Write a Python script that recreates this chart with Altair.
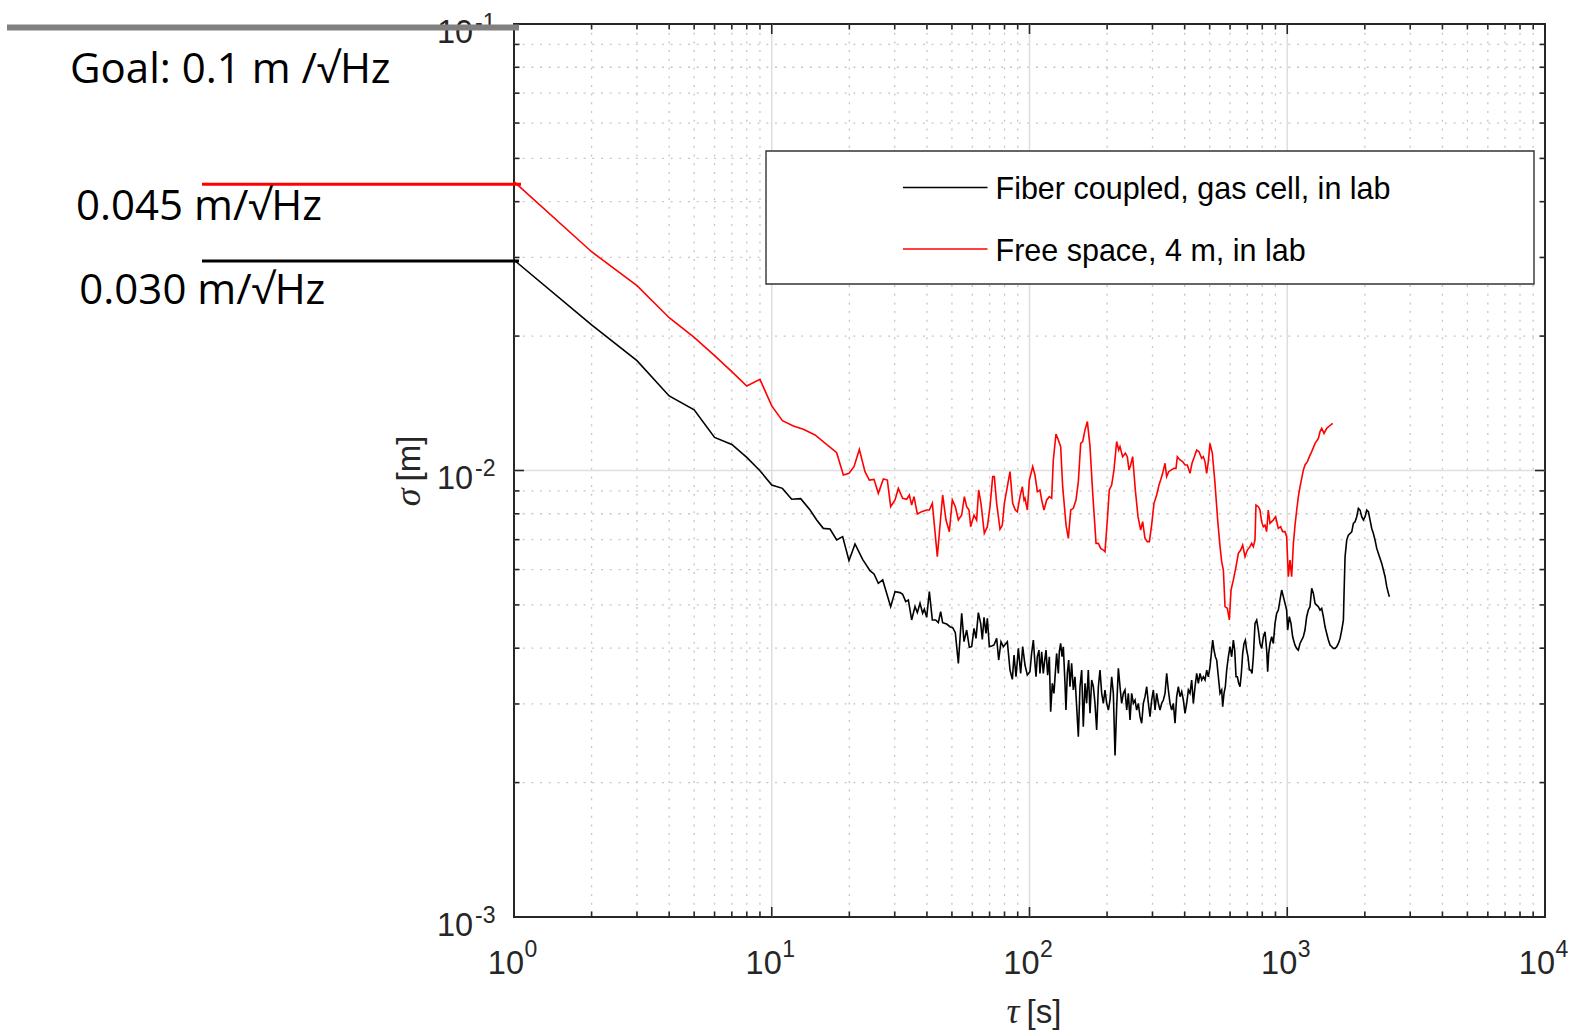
import altair as alt
import pandas as pd

# ---------------------------------------------------------------------------
# Overlapping Allan deviation of the range measurement, sigma(tau) in metres
# ---------------------------------------------------------------------------
fiber_tau = [
    1, 2, 3, 4, 5, 6, 7, 8, 9, 10, 11,
    11.95, 12.95, 14.08, 14.94, 15.85, 16.83, 17.86, 18.84, 19.94, 21.04,
    22.52, 24.05, 24.93, 25.91, 26.94, 28.93, 30.08, 31.45, 32.20, 33.08,
    33.88, 34.90, 35.96, 36.72, 37.60, 38.50, 39.08, 39.90, 40.87, 41.98,
    43.25, 44.29, 45.22, 46.03, 47.71, 49.15, 50.34, 51.55, 52.97, 54.57,
    55.71, 57.05, 58.42, 59.66, 60.92, 62.01, 63.32, 64.65, 65.62, 66.61,
    67.80, 68.62, 69.86, 71.33, 72.83, 74.58, 75.93, 77.53, 79.17, 82.04,
    84.02, 85.79, 87.09, 88.65, 90.52, 92.40, 94.09, 96.05, 98.08,
    100.4, 101.9, 103.5, 105.0, 106.0, 107.2, 108.8, 109.8, 111.5, 113.1,
    114.8, 115.9, 117.6, 119.4, 120.8, 122.6, 124.4, 125.9, 127.4, 129.4,
    130.5, 132.1, 133.7, 135.3, 137.3, 138.5, 140.2, 141.9, 143.6, 145.7,
    147.9, 150.1, 152.4, 154.7, 157.0, 159.4, 161.7, 164.2, 166.6, 169.1,
    171.7, 174.3, 176.9, 179.5, 182.2, 185.0, 187.7, 190.6, 193.4, 196.3,
    199.3, 202.3, 205.3, 208.4, 211.5, 214.7, 217.9, 221.2, 224.5, 227.8,
    231.3, 234.7, 238.3, 241.8, 245.5, 249.1, 252.9, 256.7, 260.5, 264.4,
    268.4, 272.4, 276.5, 280.7, 284.9, 289.2, 293.5, 297.9, 302.4, 306.9,
    311.5, 316.2, 320.9, 325.7, 330.6, 335.6, 340.6, 345.7, 350.9, 356.2,
    361.5, 366.9, 372.4, 378.0, 383.7, 389.5, 395.3, 401.2, 407.2, 413.4,
    419.5, 425.8, 432.2, 438.7, 445.3, 452.0, 458.7, 465.6, 472.6, 479.7,
    486.9, 494.2, 501.6, 509.1, 513.7, 519.9, 526.1, 532.4, 540.4, 548.5,
    556.7, 561.7, 568.4, 575.2, 582.1, 590.9, 599.7, 608.7, 617.9, 625.3,
    632.8, 640.3, 648.0, 655.8, 663.6, 671.6, 679.6, 687.8, 696.0, 704.3,
    712.8, 721.3, 729.9, 738.7, 749.8, 761.0, 772.5, 784.0, 795.8, 807.7,
    819.9, 832.2, 839.6, 847.2, 857.3, 870.2, 883.2, 896.5, 909.9, 923.6,
    937.4, 951.5, 965.8, 980.3, 994.6, 1003.6, 1018.6, 1033.9, 1049.4, 1071.5,
    1087.6, 1103.9, 1120.5, 1137.3, 1154.4, 1171.7, 1189.3, 1207.1, 1225.2, 1244.1,
    1262.8, 1281.7, 1301.0, 1320.5, 1340.4, 1360.5, 1380.9, 1401.7, 1422.7, 1444.0,
    1465.7, 1487.8, 1510.1, 1532.7, 1555.8, 1579.1, 1602.8, 1626.9, 1651.2, 1661.1,
    1676.1, 1701.2, 1726.7, 1752.6, 1779.0, 1805.6, 1832.7, 1860.3, 1888.1, 1916.4,
    1945.2, 1974.4, 2004.1, 2034.1, 2064.6, 2095.6, 2127.0, 2159.0, 2191.3, 2224.3,
    2257.6, 2291.5, 2325.9, 2360.8, 2396.2, 2432.1, 2468.7, 2490.7,
]
fiber_sigma = [
    0.02961, 0.02118, 0.01762, 0.01469, 0.01367, 0.01186, 0.01144, 0.01070, 0.009990, 0.009280, 0.009120,
    0.008620, 0.008650, 0.008157, 0.007746, 0.007420, 0.007395, 0.006989, 0.007110, 0.006282, 0.006847,
    0.006324, 0.005968, 0.005866, 0.005590, 0.005687, 0.004955, 0.005354, 0.005327, 0.005281, 0.005085,
    0.005129, 0.004626, 0.004955, 0.004805, 0.005042, 0.004788, 0.004889, 0.004690, 0.005354, 0.004626,
    0.004626, 0.004563, 0.004830, 0.004563, 0.004531, 0.004469, 0.004446, 0.004333, 0.003699, 0.004788,
    0.004136, 0.004393, 0.004018, 0.004032, 0.004431, 0.004208, 0.004805, 0.004547, 0.004186, 0.004690,
    0.004318, 0.004666, 0.004032, 0.004046, 0.004066, 0.004208, 0.003763, 0.004136, 0.004032, 0.004136,
    0.003573, 0.003405, 0.003861, 0.003452, 0.003997, 0.003512, 0.004032, 0.003667, 0.003483,
    0.003543, 0.003893, 0.004171, 0.003698, 0.003452, 0.003827, 0.003961, 0.003512, 0.003927, 0.003512,
    0.003795, 0.003961, 0.003482, 0.003827, 0.002883, 0.003336, 0.003169, 0.003512, 0.003893, 0.003512,
    0.003927, 0.004099, 0.003827, 0.004030, 0.003336, 0.002908, 0.003512, 0.003762, 0.003279, 0.003698,
    0.003224, 0.003452, 0.002959, 0.002535, 0.003279, 0.003573, 0.002669, 0.003336, 0.003010, 0.003573,
    0.002859, 0.003394, 0.003279, 0.003010, 0.002624, 0.003279, 0.003573, 0.003169, 0.003010, 0.003224,
    0.003010, 0.002908, 0.003062, 0.003452, 0.003169, 0.002300, 0.002959, 0.003604, 0.003279, 0.003010,
    0.003169, 0.003224, 0.002908, 0.003169, 0.002762, 0.003169, 0.003010, 0.003062, 0.002908, 0.003010,
    0.002810, 0.002716, 0.003010, 0.003115, 0.003279, 0.003010, 0.002810, 0.003062, 0.003224, 0.002908,
    0.003169, 0.003010, 0.002908, 0.003010, 0.003062, 0.003169, 0.003512, 0.003224, 0.003010, 0.002908,
    0.003010, 0.002716, 0.003115, 0.003279, 0.003115, 0.003196, 0.003062, 0.002859, 0.003010, 0.003224,
    0.003169, 0.003394, 0.003010, 0.003279, 0.003512, 0.003336, 0.003512, 0.003394, 0.003452, 0.003394,
    0.003573, 0.003452, 0.003635, 0.003961, 0.004171, 0.003961, 0.003827, 0.003762, 0.003452, 0.003169,
    0.003224, 0.002959, 0.003169, 0.003279, 0.003573, 0.003827, 0.004030, 0.003827, 0.004171, 0.003961,
    0.003452, 0.003452, 0.003336, 0.003279, 0.003512, 0.003893, 0.004099, 0.004171, 0.003961, 0.003827,
    0.003573, 0.003573, 0.003512, 0.003827, 0.004546, 0.004625, 0.004392, 0.004099, 0.003995, 0.004243,
    0.004354, 0.003961, 0.003543, 0.003893, 0.004099, 0.004243, 0.004099, 0.004546, 0.004787, 0.004870,
    0.005129, 0.005399, 0.005218, 0.005041, 0.004870, 0.004392, 0.004705, 0.004546, 0.004243, 0.004064,
    0.003995, 0.003961, 0.004099, 0.004171, 0.004243, 0.004392, 0.004705, 0.004870, 0.004955, 0.005446,
    0.005307, 0.005039, 0.004996, 0.004953, 0.004868, 0.004910, 0.004704, 0.004467, 0.004316, 0.004171,
    0.004064, 0.004030, 0.003995, 0.003995, 0.004030, 0.004099, 0.004205, 0.004391, 0.004624, 0.005307,
    0.006412, 0.006985, 0.007166, 0.007228, 0.007290, 0.007612, 0.007678, 0.007880, 0.008225, 0.008155,
    0.007880, 0.007745, 0.007880, 0.008155, 0.008085, 0.007745, 0.007417, 0.007228, 0.006985, 0.006692,
    0.006522, 0.006355, 0.006193, 0.005986, 0.005782, 0.005494, 0.005307, 0.005216,
]

free_tau = [
    1, 2, 3, 4, 5, 6, 7, 8, 9, 10, 11,
    12.13, 13.26, 14.72, 17.86, 18.96, 19.94, 20.85, 21.87, 23.00, 23.91,
    24.93, 25.91, 27.10, 28.08, 28.93, 30.08, 30.98, 32.20, 33.38, 34.19,
    34.90, 35.64, 36.72, 38.16, 39.90, 40.87, 41.98, 43.89, 46.03, 47.43,
    48.87, 50.18, 51.55, 52.97, 54.57, 55.88, 57.05, 58.26, 59.12, 60.92,
    62.37, 63.50, 64.83, 66.80, 68.62, 70.27, 71.97, 73.04, 74.58, 76.84,
    78.46, 79.88, 82.04, 84.02, 86.05, 88.11, 89.71, 91.87, 93.81, 95.22,
    96.05, 98.08, 99.86, 102.9, 105.0, 107.3, 109.8, 111.5, 113.8, 116.6,
    119.4, 121.9, 123.7, 126.7, 129.4, 132.1, 134.5, 138.6, 141.5, 144.5,
    147.9, 151.5, 154.7, 158.0, 160.8, 164.2, 167.7, 171.7, 175.9, 181.2,
    185.0, 188.9, 193.5, 196.3, 200.4, 204.0, 208.3, 212.7, 217.8, 221.8,
    224.4, 229.8, 235.4, 239.6, 243.2, 246.9, 251.3, 257.4, 263.6, 270.0,
    274.8, 280.6, 286.5, 291.7, 297.8, 304.1, 311.4, 318.0, 322.7, 328.6,
    335.5, 340.5, 346.7, 355.0, 363.6, 370.1, 374.6, 383.6, 392.9, 401.2,
    409.6, 419.5, 427.0, 436.1, 445.2, 454.6, 465.5, 472.5, 479.6, 486.8,
    494.1, 501.5, 512.1, 524.4, 537.1, 548.5, 556.7, 565.1, 573.6, 585.6,
    596.2, 605.2, 617.9, 630.9, 646.1, 659.7, 671.6, 685.7, 700.1, 717.0,
    727.6, 738.6, 749.6, 756.3, 772.3, 783.7, 795.5, 807.4, 819.5, 831.8,
    844.2, 856.9, 869.8, 882.8, 901.5, 923.3, 942.6, 959.6, 979.8, 994.7,
    1009.7, 1024.7, 1040.2, 1056.4, 1072.2, 1088.0, 1104.5, 1121.1, 1138.0, 1155.0,
    1172.3, 1197.0, 1218.5, 1244.2, 1281.9, 1320.6, 1340.4, 1360.5, 1389.2, 1422.7,
    1457.2, 1501.2,
]
free_sigma = [
    0.04434, 0.03090, 0.02594, 0.02199, 0.01987, 0.01808, 0.01665, 0.01546, 0.01600, 0.01395, 0.01293,
    0.01258, 0.01237, 0.01201, 0.01096, 0.009770, 0.009856, 0.01020, 0.01115, 0.009940, 0.009521,
    0.009554, 0.008888, 0.009572, 0.009521, 0.008297, 0.008590, 0.009122, 0.008665, 0.008620, 0.008814,
    0.008370, 0.008739, 0.007992, 0.008088, 0.008157, 0.008157, 0.008443, 0.006412, 0.008814, 0.007746,
    0.007295, 0.008590, 0.008297, 0.007746, 0.007948, 0.008739, 0.008297, 0.008157, 0.007484, 0.007948,
    0.007746, 0.009043, 0.008443, 0.007233, 0.007484, 0.008297, 0.009688, 0.009688, 0.008443, 0.007384,
    0.007548, 0.008443, 0.009200, 0.009940, 0.008443, 0.008157, 0.008088, 0.008739, 0.009200, 0.008590,
    0.008665, 0.008157, 0.009521, 0.01020, 0.009770, 0.008965, 0.009043, 0.008590, 0.008157, 0.008590,
    0.008739, 0.008665, 0.01056, 0.01207, 0.01170, 0.01131, 0.009200, 0.007548, 0.007047, 0.008157,
    0.008227, 0.008590, 0.009441, 0.01150, 0.01161, 0.01233, 0.01287, 0.01131, 0.008888, 0.006869,
    0.006869, 0.006694, 0.006636, 0.006579, 0.007746, 0.009043, 0.009279, 0.01003, 0.01161, 0.01111,
    0.01131, 0.01074, 0.01093, 0.01074, 0.01003, 0.01029, 0.01074, 0.009043, 0.007880, 0.007358,
    0.007681, 0.007047, 0.006928, 0.006928, 0.007548, 0.008443, 0.008814, 0.009279, 0.009521, 0.009856,
    0.01038, 0.009688, 0.009940, 0.01003, 0.01011, 0.01011, 0.01074, 0.01056, 0.01047, 0.01029,
    0.01029, 0.009856, 0.01038, 0.01074, 0.01111, 0.01102, 0.01065, 0.01074, 0.01047, 0.009856,
    0.01047, 0.01150, 0.01093, 0.009360, 0.007746, 0.006752, 0.006249, 0.005987, 0.004955, 0.004913,
    0.004626, 0.005401, 0.005687, 0.006038, 0.006523, 0.006636, 0.006810, 0.006412, 0.006636, 0.006752,
    0.006869, 0.006752, 0.006989, 0.008370, 0.008297, 0.008157, 0.007681, 0.007484, 0.007548, 0.007295,
    0.008157, 0.007615, 0.007681, 0.007746, 0.007880, 0.007420, 0.007484, 0.007295, 0.007295, 0.007110,
    0.005785, 0.006303, 0.005785, 0.006869, 0.007548, 0.008157, 0.008739, 0.009200, 0.009605, 0.01003,
    0.01029, 0.01047, 0.01074, 0.01102, 0.01150, 0.01180, 0.01222, 0.01243, 0.01211, 0.01243,
    0.01258, 0.01275,
]
assert len(fiber_tau) == len(fiber_sigma) and len(free_tau) == len(free_sigma)

series_names = ["Fiber coupled, gas cell, in lab", "Free space, 4 m, in lab"]
series_colors = ["#000000", "#ff0000"]

# Noise-floor annotations on the left of the axes
goal_levels = [0.1, 0.045, 0.030]
goal_texts = ["Goal: 0.1 m /√Hz", "0.045 m/√Hz", "0.030 m/√Hz"]
goal_colors = ["#808080", "#ff0000", "#000000"]

# Log axes: decade labels 10^n and the 2..9 sub-decade ticks
x_decades = [1, 10, 100, 1000, 10000]
x_exponents = ["0", "1", "2", "3", "4"]
y_decades = [0.001, 0.01, 0.1]
y_exponents = ["-3", "-2", "-1"]
x_minor = [m * d for d in (1, 10, 100, 1000) for m in range(2, 10)]
y_minor = [m * d for d in (0.001, 0.01) for m in range(2, 10)]

# ---------------------------------------------------------------------------
W, H = 1031, 893
AXIS = "#262626"
SANS = "Liberation Sans"
NOTE_FONT = "Open Sans"
BASE = "alphabetic"

xs = alt.Scale(type="log", domain=[1, 10000], nice=False)
ys = alt.Scale(type="log", domain=[0.001, 0.1], nice=False)


def xq(field):
    return alt.X(f"{field}:Q", scale=xs, axis=None)


def yq(field):
    return alt.Y(f"{field}:Q", scale=ys, axis=None)


def one_row():
    return pd.DataFrame({"k": [0]})


layers = []

# grid: dotted sub-decade lines, solid light decade lines
minor_style = dict(color="#c6c6c6", strokeWidth=1.3, strokeDash=[2, 6.7])
major_style = dict(color="#dedede", strokeWidth=1.5)
layers.append(alt.Chart(pd.DataFrame({"v": x_minor})).mark_rule(**minor_style)
              .encode(x=xq("v"), y=alt.value(0), y2=alt.value(H)))
layers.append(alt.Chart(pd.DataFrame({"v": y_minor})).mark_rule(**minor_style)
              .encode(y=yq("v"), x=alt.value(0), x2=alt.value(W)))
layers.append(alt.Chart(pd.DataFrame({"v": x_decades[1:-1]})).mark_rule(**major_style)
              .encode(x=xq("v"), y=alt.value(0), y2=alt.value(H)))
layers.append(alt.Chart(pd.DataFrame({"v": y_decades[1:-1]})).mark_rule(**major_style)
              .encode(y=yq("v"), x=alt.value(0), x2=alt.value(W)))

# the two Allan-deviation curves
curves = pd.DataFrame({
    "tau": fiber_tau + free_tau,
    "sigma": fiber_sigma + free_sigma,
    "series": [series_names[0]] * len(fiber_tau) + [series_names[1]] * len(free_tau),
})
layers.append(
    alt.Chart(curves).mark_line(strokeWidth=1.6).encode(
        x=xq("tau"),
        y=yq("sigma"),
        color=alt.Color("series:N", scale=alt.Scale(domain=series_names, range=series_colors), legend=None),
        detail="series:N",
    )
)

# inward ticks on all four sides of the box
for values, length in ((x_decades, 10), (x_minor, 5.5)):
    base = alt.Chart(pd.DataFrame({"v": values})).mark_rule(color=AXIS, strokeWidth=1.6)
    layers.append(base.encode(x=xq("v"), y=alt.value(H), y2=alt.value(H - length)))
    layers.append(base.encode(x=xq("v"), y=alt.value(0), y2=alt.value(length)))
for values, length in ((y_decades, 10), (y_minor, 5.5)):
    base = alt.Chart(pd.DataFrame({"v": values})).mark_rule(color=AXIS, strokeWidth=1.6)
    layers.append(base.encode(y=yq("v"), x=alt.value(0), x2=alt.value(length)))
    layers.append(base.encode(y=yq("v"), x=alt.value(W), x2=alt.value(W - length)))

# decade tick labels written as 10 with a raised exponent
xlab = pd.DataFrame({"v": x_decades, "base": ["10"] * len(x_decades), "exp": x_exponents})
ylab = pd.DataFrame({"v": y_decades, "base": ["10"] * len(y_decades), "exp": y_exponents})
layers.append(alt.Chart(xlab).mark_text(align="right", baseline=BASE, dx=10, font=SANS, fontSize=32.5, color=AXIS)
              .encode(x=xq("v"), y=alt.value(H + 57), text="base:N"))
layers.append(alt.Chart(xlab).mark_text(align="left", baseline=BASE, dx=10.5, font=SANS, fontSize=23, color=AXIS)
              .encode(x=xq("v"), y=alt.value(H + 39.5), text="exp:N"))
layers.append(alt.Chart(ylab).mark_text(align="right", baseline=BASE, dy=18.6, font=SANS, fontSize=32.5, color=AXIS)
              .encode(y=yq("v"), x=alt.value(-40.8), text="base:N"))
layers.append(alt.Chart(ylab).mark_text(align="left", baseline=BASE, dy=5.7, font=SANS, fontSize=23, color=AXIS)
              .encode(y=yq("v"), x=alt.value(-39), text="exp:N"))

# axis titles
layers.append(alt.Chart(one_row()).mark_text(text="τ", align="right", baseline=BASE, font="Liberation Serif",
                                             fontStyle="italic", fontSize=36, color=AXIS)
              .encode(x=alt.value(W / 2 - 10), y=alt.value(H + 106)))
layers.append(alt.Chart(one_row()).mark_text(text="[s]", align="left", baseline=BASE, font=SANS, fontSize=33, color=AXIS)
              .encode(x=alt.value(W / 2 - 3), y=alt.value(H + 106)))
layers.append(alt.Chart(one_row()).mark_text(text="σ", angle=270, align="right", baseline=BASE, font="Liberation Serif",
                                             fontStyle="italic", fontSize=36, color=AXIS)
              .encode(x=alt.value(-94), y=alt.value(H / 2 + 18)))
layers.append(alt.Chart(one_row()).mark_text(text="[m]", angle=270, align="left", baseline=BASE, font=SANS, fontSize=33, color=AXIS)
              .encode(x=alt.value(-94), y=alt.value(H / 2 + 11)))

# legend box
LEG_X0, LEG_X1, LEG_Y0, LEG_Y1 = 252, 1020, 127, 260
layers.append(alt.Chart(one_row()).mark_rect(fill="white", stroke="#333333", strokeWidth=1.4)
              .encode(x=alt.value(LEG_X0), x2=alt.value(LEG_X1), y=alt.value(LEG_Y0), y2=alt.value(LEG_Y1)))
for i, (name, color) in enumerate(zip(series_names, series_colors)):
    row_y = 163.5 + 61.5 * i
    layers.append(alt.Chart(one_row()).mark_rule(color=color, strokeWidth=1.4)
                  .encode(x=alt.value(389), x2=alt.value(473.5), y=alt.value(row_y)))
    layers.append(alt.Chart(one_row()).mark_text(text=name, align="left", baseline=BASE, font=SANS,
                                                 fontSize=30.5, color="#000000")
                  .encode(x=alt.value(481.5), y=alt.value(row_y + 11.5)))

# goal / floor markers drawn to the left of the axes
goal_df = pd.DataFrame({"level": goal_levels})
rule_spans = [(-507, 5, 6, 3.5), (-312, 7, 3, 5.5), (-312, 5, 3, 3.5)]
text_spots = [(-444, 59.3), (-438, 196), (-434.7, 280)]
for i, (x0, x1, width, offset) in enumerate(rule_spans):
    layers.append(alt.Chart(goal_df.iloc[[i]]).mark_rule(color=goal_colors[i], strokeWidth=width, yOffset=offset)
                  .encode(y=yq("level"), x=alt.value(x0), x2=alt.value(x1)))
for text, (tx, ty) in zip(goal_texts, text_spots):
    layers.append(alt.Chart(one_row()).mark_text(text=text, align="left", baseline=BASE, font=NOTE_FONT,
                                                 fontSize=42, color="#000000")
                  .encode(x=alt.value(tx), y=alt.value(ty)))

chart = (
    alt.layer(*layers)
    .properties(
        width=W,
        height=H,
        autosize=alt.AutoSizeParams(type="none"),
        padding={"left": 514, "top": 24, "right": 35, "bottom": 115},
        background="white",
    )
    .configure_view(stroke=AXIS, strokeWidth=2)
)

chart.save("out.html", embed_options={"renderer": "svg", "actions": False})
